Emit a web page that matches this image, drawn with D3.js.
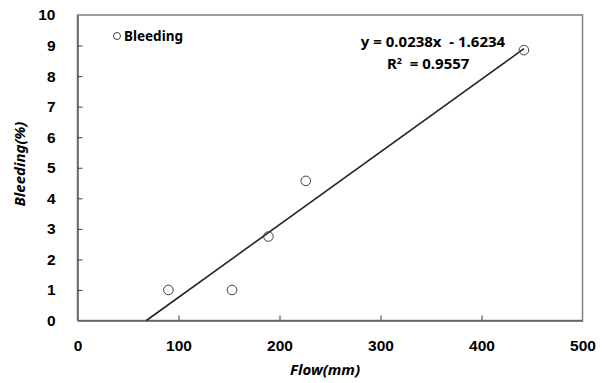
<!DOCTYPE html>
<html>
<head>
<meta charset="UTF-8">
<script src="https://d3js.org/d3.v7.min.js"></script>
<style>
  body { margin: 0; background: #fff; }
  svg { display: block; font-family: 'Noto Sans', 'DejaVu Sans', sans-serif; }
</style>
</head>
<body>
<svg id="chart" width="606" height="383"></svg>
<script>
// data
const flow = [90, 153, 189, 226, 442];
const bleeding = [1.0, 1.0, 2.75, 4.57, 8.85];
const xTicks = [0, 100, 200, 300, 400, 500];
const yTicks = [0, 1, 2, 3, 4, 5, 6, 7, 8, 9, 10];
const slope = 0.0238;
const intercept = -1.6234;
const eqLabel = 'y = 0.0238x  - 1.6234';
const r2Label = '  = 0.9557';

const svg = d3.select('#chart');
const m = { left: 77.5, right: 582.5, top: 15, bottom: 320.5 };

const x = d3.scaleLinear().domain([0, 500]).range([m.left, m.right]);
const y = d3.scaleLinear().domain([0, 10]).range([m.bottom, m.top]);

// plot frame
svg.append('rect')
  .attr('x', m.left).attr('y', m.top)
  .attr('width', m.right - m.left).attr('height', m.bottom - m.top)
  .attr('fill', 'none').attr('stroke', '#808080').attr('stroke-width', 1.5);

const xAxis = svg.append('g')
  .attr('transform', `translate(0,${m.bottom})`)
  .call(d3.axisBottom(x).tickValues(xTicks).tickSizeInner(-5).tickSizeOuter(0).tickPadding(19));
const yAxis = svg.append('g')
  .attr('transform', `translate(${m.left},0)`)
  .call(d3.axisLeft(y).tickValues(yTicks).tickSizeInner(-5).tickSizeOuter(0).tickPadding(22));

[xAxis, yAxis].forEach(g => {
  g.select('.domain').attr('stroke', '#606060').attr('stroke-width', 1.5);
  g.selectAll('.tick line').attr('stroke', '#404040');
  g.selectAll('.tick text')
    .attr('fill', '#000')
    .style('font-size', '15.5px')
    .style('font-weight', 'bold');
});
xAxis.selectAll('.tick line').filter(d => d === 0 || d === 500).remove();
yAxis.selectAll('.tick line').filter(d => d === 0 || d === 10).remove();

// trendline, from y = 0 to the last point
const x0 = -intercept / slope;
const x1 = d3.max(flow);
svg.append('line')
  .attr('x1', x(x0)).attr('y1', y(slope * x0 + intercept))
  .attr('x2', x(x1)).attr('y2', y(slope * x1 + intercept))
  .attr('stroke', '#262626').attr('stroke-width', 1.6);

// points
svg.append('g').selectAll('circle')
  .data(flow.map((f, i) => [f, bleeding[i]]))
  .join('circle')
  .attr('cx', d => x(d[0])).attr('cy', d => y(d[1]))
  .attr('r', 4.8)
  .attr('fill', 'none').attr('stroke', '#404040').attr('stroke-width', 1);

// legend
svg.append('circle').attr('cx', 117).attr('cy', 36).attr('r', 3.5)
  .attr('fill', '#fff').attr('stroke', '#404040');
svg.append('text').attr('x', 124).attr('y', 41)
  .style('font-size', '13.5px').style('font-weight', 'bold').text('Bleeding');

// equation
svg.append('text').attr('x', 433).attr('y', 47).attr('text-anchor', 'middle')
  .style('font-size', '15px').style('font-weight', 'bold').attr('xml:space', 'preserve')
  .text(eqLabel);
const r2 = svg.append('text').attr('x', 387).attr('y', 69)
  .style('font-size', '15px').style('font-weight', 'bold').attr('xml:space', 'preserve');
r2.append('tspan').text('R');
r2.append('tspan').attr('dy', -5).style('font-size', '9px').text('2');
r2.append('tspan').attr('dy', 5).text(r2Label);

// axis titles
svg.append('text').attr('x', 325).attr('y', 375).attr('text-anchor', 'middle')
  .style('font-size', '15px').style('font-weight', 'bold').style('font-style', 'italic')
  .text('Flow(mm)');
svg.append('text')
  .attr('transform', 'translate(25,164) rotate(-90)').attr('text-anchor', 'middle')
  .style('font-size', '15px').style('font-weight', 'bold').style('font-style', 'italic')
  .text('Bleeding(%)');
</script>
</body>
</html>
